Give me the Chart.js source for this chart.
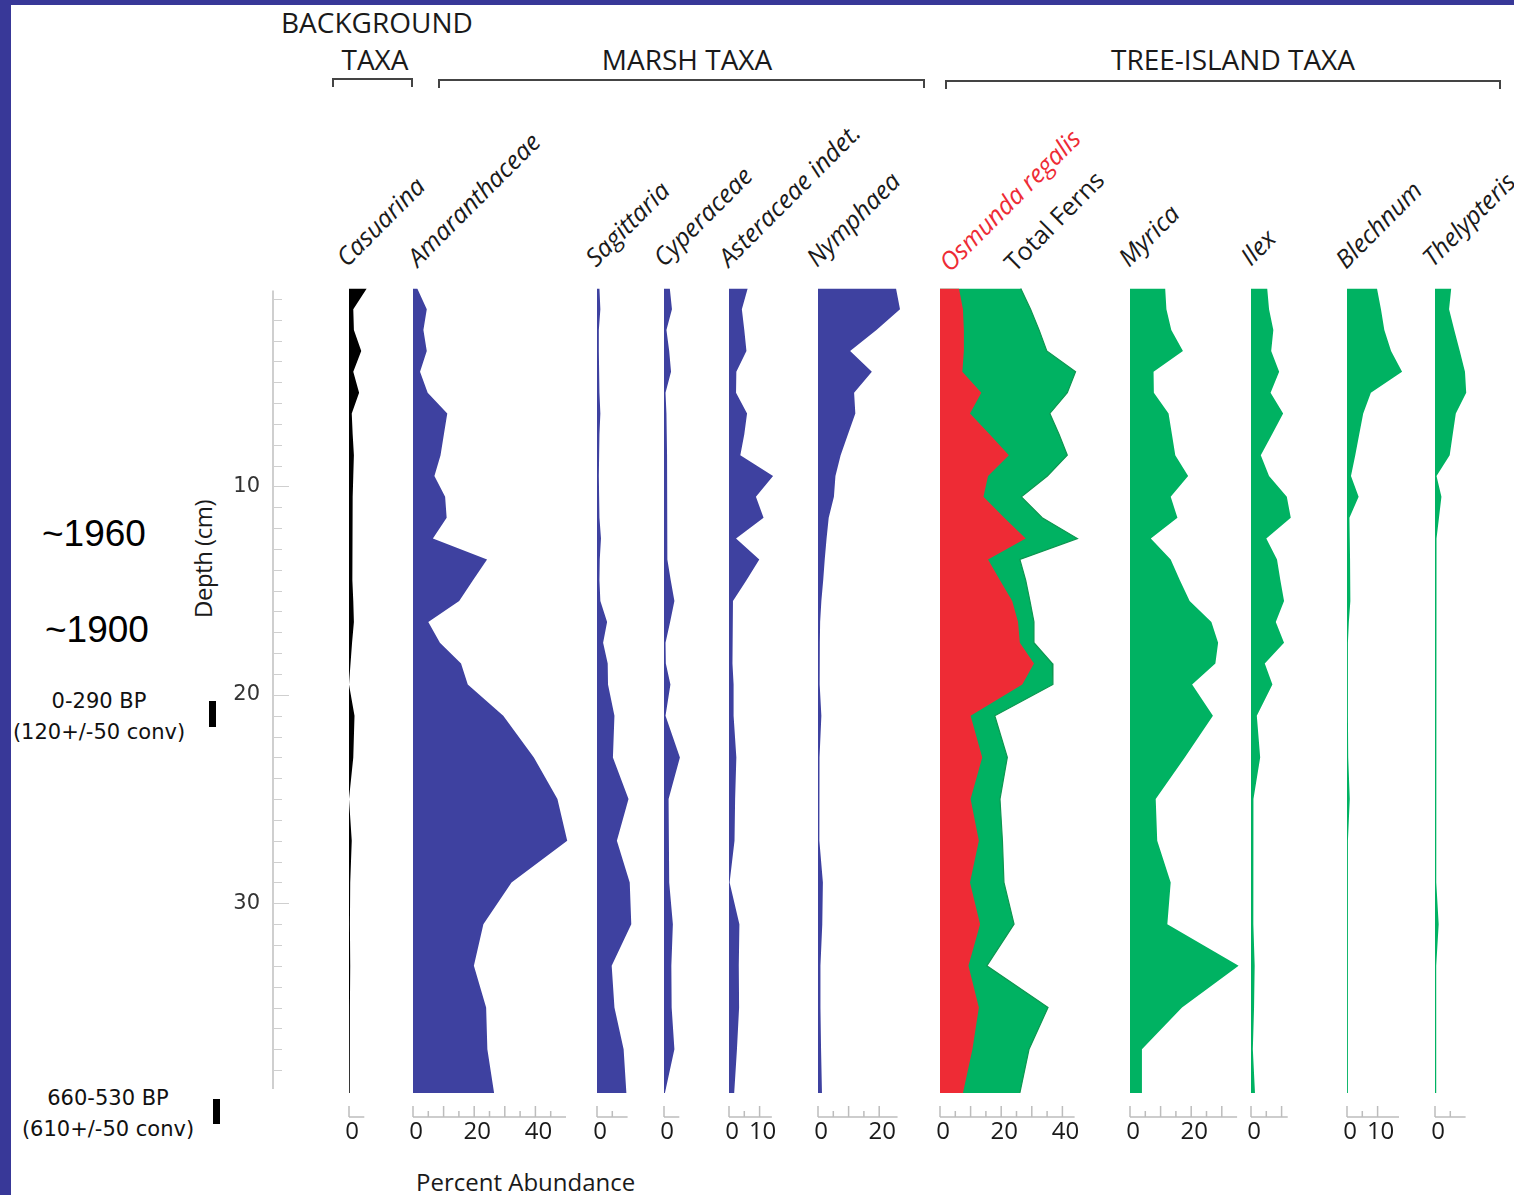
<!DOCTYPE html>
<html>
<head>
<meta charset="utf-8">
<script src="https://cdn.jsdelivr.net/npm/chart.js@4.4.1/dist/chart.umd.min.js"></script>
<style>
  html, body { margin: 0; padding: 0; background: #fff; }
  #page { position: relative; width: 1514px; height: 1195px; overflow: hidden; background: #fff;
          font-family: 'Open Sans', sans-serif; color: #1a1a1a; }
  .frame-left { position: absolute; left: 0; top: 0; width: 11px; height: 1195px; background: #383898; }
  .frame-top { position: absolute; left: 0; top: 0; width: 1514px; height: 5px; background: #383898; }
  .grp { position: absolute; font-size: 28px; line-height: 28px; white-space: nowrap; }
  .center { transform: translateX(-50%); }
  .bracket { position: absolute; height: 7px; border: 2px solid #444; border-bottom: none; }
  .taxon { position: absolute; font-size: 25px; font-style: italic; line-height: 25px; height: 25px;
           white-space: nowrap; transform-origin: 0 100%; transform: rotate(-45deg); }
  .note { position: absolute; white-space: nowrap; transform: translateX(-50%);
          font-family: 'DejaVu Sans', sans-serif; font-size: 21px; line-height: 21px; color: #111; }
  .year { position: absolute; white-space: nowrap; font-family: 'Liberation Sans', Arial, sans-serif;
          font-size: 37px; line-height: 37px; color: #000; }
  .bar { position: absolute; background: #000; }
  canvas { position: absolute; }
</style>
</head>
<body>
<div id="page">
  <div class="frame-top"></div>
  <div class="frame-left"></div>

  <div class="grp" style="left:281px; top:8px;">BACKGROUND</div>
  <div class="grp center" style="left:375px; top:45px;">TAXA</div>
  <div class="grp center" style="left:687px; top:45px;">MARSH TAXA</div>
  <div class="grp center" style="left:1233px; top:45px;">TREE-ISLAND TAXA</div>
  <div class="bracket" style="left:332px; top:78px; width:77px;"></div>
  <div class="bracket" style="left:438px; top:79px; width:483px;"></div>
  <div class="bracket" style="left:945px; top:80px; width:552px;"></div>

  <div class="taxon" style="left:349px; top:245px;">Casuarina</div>
  <div class="taxon" style="left:420px; top:245px;">Amaranthaceae</div>
  <div class="taxon" style="left:598px; top:245px;">Sagittaria</div>
  <div class="taxon" style="left:666px; top:245px;">Cyperaceae</div>
  <div class="taxon" style="left:731px; top:245px;">Asteraceae indet.</div>
  <div class="taxon" style="left:819px; top:245px;">Nymphaea</div>
  <div class="taxon" style="left:952px; top:250px; color:#ee2b35;">Osmunda regalis</div>
  <div class="taxon" style="left:1017px; top:250px; font-style:normal;">Total Ferns</div>
  <div class="taxon" style="left:1131px; top:245px;">Myrica</div>
  <div class="taxon" style="left:1253px; top:244px;">Ilex</div>
  <div class="taxon" style="left:1348px; top:247px;">Blechnum</div>
  <div class="taxon" style="left:1435px; top:245px;">Thelypteris</div>

  <div class="year" style="left:42px; top:515px;">~1960</div>
  <div class="year" style="left:45px; top:611px;">~1900</div>
  <div class="note" style="left:99px; top:691px;">0-290 BP</div>
  <div class="note" style="left:99px; top:722px;">(120+/-50 conv)</div>
  <div class="note" style="left:108px; top:1088px;">660-530 BP</div>
  <div class="note" style="left:108px; top:1119px;">(610+/-50 conv)</div>
  <div class="bar" style="left:209px; top:701px; width:7px; height:26px;"></div>
  <div class="bar" style="left:213px; top:1099px; width:7px; height:25px;"></div>

  <div style="position:absolute; left:202px; top:559px; transform:translate(-50%,-50%) rotate(-90deg);
              font-size:24px; white-space:nowrap; letter-spacing:-0.5px;">Depth (cm)</div>
  <div style="position:absolute; left:416px; top:1170px; font-size:24px; line-height:24px; white-space:nowrap;">Percent Abundance</div>
</div>

<script>
// ---------------- data (depth in cm, values in %) ----------------
const depths = [0.5, 1.5, 2.5, 3.5, 4.5, 5.5, 6.5, 7.5, 8.5, 9.5,
  10.5, 11.5, 12.5, 13.5, 14.5, 15.5, 16.5, 17.5, 18.5, 19.5,
  21, 23, 25, 27, 29, 31, 33, 35, 37, 39.1];

const casuarina = [5.8, 1.4, 1.6, 4.0, 1.4, 3.3, 0.9, 1.2, 1.6, 1.4,
  1.2, 1.2, 1.0, 1.0, 1.2, 1.4, 1.6, 1.0, 0.5, 0.0,
  1.8, 1.4, 0.0, 0.9, 0.4, 0.3, 0.4, 0.3, 0.3, 0.2];
const amaranthaceae = [1.4, 4.5, 3.4, 4.5, 2.3, 4.8, 11.2, 10.1, 9.0, 7.0,
  10.5, 11.0, 6.5, 24.2, 19.6, 15.1, 5.0, 8.8, 15.7, 17.9,
  29.5, 39.5, 47.2, 50.4, 32.2, 23.0, 19.9, 23.9, 24.3, 26.5];
const sagittaria = [0.8, 1.1, 0.6, 0.6, 0.7, 0.8, 1.1, 0.8, 0.7, 0.6,
  0.7, 0.8, 1.3, 0.9, 0.8, 1.1, 3.3, 2.0, 3.5, 3.6,
  5.7, 5.2, 10.3, 6.5, 10.7, 11.2, 4.8, 5.7, 8.7, 9.6];
const cyperaceae = [1.9, 2.6, 0.8, 1.7, 2.3, 0.5, 0.8, 0.9, 1.0, 1.0,
  1.1, 1.0, 1.1, 1.3, 2.2, 3.4, 2.0, 0.5, 0.6, 2.1,
  0.5, 5.2, 1.5, 1.6, 1.7, 2.9, 2.4, 2.5, 3.4, 0.3];
const asteraceae = [6.1, 4.2, 5.0, 5.7, 2.4, 2.3, 5.9, 5.0, 3.7, 14.4,
  8.8, 11.3, 2.3, 9.9, 5.7, 1.3, 1.2, 1.1, 1.1, 1.5,
  1.5, 2.4, 2.0, 1.8, 0.2, 3.4, 3.2, 3.3, 2.6, 1.7];
const nymphaea = [25.5, 26.8, 19.1, 10.5, 17.6, 11.8, 12.2, 9.8, 7.4, 5.7,
  5.2, 3.5, 2.8, 2.2, 1.7, 1.1, 0.7, 0.6, 0.5, 0.6,
  1.1, 0.5, 0.4, 0.5, 1.6, 1.4, 0.8, 0.8, 1.0, 1.3];
const osmunda = [6.2, 7.5, 7.8, 7.8, 7.3, 13.5, 9.8, 16.2, 22.5, 15.7,
  14.2, 21.0, 28.0, 15.7, 19.6, 23.6, 25.5, 26.1, 30.7, 26.9,
  10.0, 13.8, 10.0, 12.7, 9.8, 13.1, 9.3, 12.7, 10.6, 7.5];
const totalFerns = [26.4, 29.6, 32.4, 34.9, 44.3, 41.6, 35.9, 38.9, 41.6, 35.1,
  26.6, 33.4, 44.9, 26.1, 28.0, 29.4, 30.7, 30.7, 36.7, 36.9,
  17.9, 22.0, 19.6, 20.4, 20.9, 24.2, 15.3, 35.3, 29.1, 26.1];
const myrica = [11.5, 11.9, 13.5, 17.3, 7.7, 7.8, 12.6, 13.7, 14.8, 19.0,
  13.3, 15.5, 6.8, 13.3, 16.3, 19.5, 26.6, 28.8, 27.9, 20.3,
  27.1, 17.9, 8.4, 8.9, 13.3, 12.2, 35.5, 17.0, 3.9, 3.9];
const ilex = [5.3, 5.9, 7.3, 6.6, 9.2, 6.4, 10.5, 6.9, 3.2, 5.9,
  11.7, 13.0, 5.0, 8.5, 9.6, 10.8, 8.1, 10.8, 4.5, 7.0,
  1.9, 3.0, 0.8, 0.7, 0.7, 0.9, 1.2, 1.0, 0.6, 1.3];
const blechnum = [9.8, 11.1, 12.2, 14.4, 18.0, 7.8, 5.3, 4.0, 2.7, 1.3,
  3.8, 0.8, 0.9, 1.0, 1.0, 1.2, 0.6, 0.3, 0.3, 0.3,
  0.3, 0.4, 0.9, 0.3, 0.3, 0.3, 0.3, 0.3, 0.3, 0.3];
const thelypteris = [5.3, 4.6, 6.3, 8.1, 9.8, 10.2, 6.8, 5.8, 4.8, 0.5,
  2.1, 1.3, 0.5, 0.4, 0.4, 0.4, 0.4, 0.4, 0.4, 0.4,
  0.4, 0.4, 0.4, 0.4, 0.6, 1.2, 0.4, 0.4, 0.4, 0.4];

// tick labels
const depthTickLabels = [10, 20, 30];
const ticksZero = [0];
const ticksTwentyForty = [0, 20, 40];
const ticksTen = [0, 10];
const ticksTwenty = [0, 20];

// ---------------- layout ----------------
const PX_PER_PCT = 3.06;
const AREA_TOP = 278, AREA_HEIGHT = 840, DEPTH_MAX = 40.3;
const AXIS_H = 50, PAD = 15;
const BLUE = '#3e41a0', GREEN = '#00b262', RED = '#ee2b35';

const panels = [
  { zero: 349,  axisEnd: 5,  labels: ticksZero,        sets: [{ v: casuarina, c: '#000' }] },
  { zero: 413,  axisEnd: 50, labels: ticksTwentyForty, sets: [{ v: amaranthaceae, c: BLUE }] },
  { zero: 597,  axisEnd: 10, labels: ticksZero,        sets: [{ v: sagittaria, c: BLUE }] },
  { zero: 664,  axisEnd: 5,  labels: ticksZero,        sets: [{ v: cyperaceae, c: BLUE }] },
  { zero: 729,  axisEnd: 14, labels: ticksTen,         sets: [{ v: asteraceae, c: BLUE }] },
  { zero: 818,  axisEnd: 26, labels: ticksTwenty,      sets: [{ v: nymphaea, c: BLUE }] },
  { zero: 940,  axisEnd: 44, labels: ticksTwentyForty, sets: [{ v: osmunda, c: RED }, { v: totalFerns, c: GREEN, b: '#0d9650' }] },
  { zero: 1130, axisEnd: 35, labels: ticksTwenty,      sets: [{ v: myrica, c: GREEN }] },
  { zero: 1251, axisEnd: 12, labels: ticksZero,        sets: [{ v: ilex, c: GREEN }] },
  { zero: 1347, axisEnd: 17, labels: ticksTen,         sets: [{ v: blechnum, c: GREEN }] },
  { zero: 1435, axisEnd: 10, labels: ticksZero,        sets: [{ v: thelypteris, c: GREEN }] }
];

const page = document.getElementById('page');

function addCanvas(left, top, w, h) {
  const cv = document.createElement('canvas');
  cv.width = w; cv.height = h;
  cv.style.left = left + 'px'; cv.style.top = top + 'px';
  page.appendChild(cv);
  return cv;
}

// small tick marks standing up from the baseline of each panel axis
function axisMarks(end) {
  return {
    id: 'axisMarks',
    afterDraw(chart) {
      const xs = chart.scales.x, ctx = chart.ctx;
      const base = chart.chartArea.bottom - 1;
      ctx.save();
      ctx.strokeStyle = '#bdbdbd';
      ctx.lineWidth = 1.5;
      ctx.beginPath();
      ctx.moveTo(xs.getPixelForValue(0), base);
      ctx.lineTo(xs.getPixelForValue(end), base);
      xs.ticks.forEach(t => {
        const px = xs.getPixelForValue(t.value);
        const len = t.value % 10 === 0 ? 11 : 6;
        ctx.moveTo(px, base);
        ctx.lineTo(px, base - len);
      });
      ctx.stroke();
      ctx.restore();
    }
  };
}

panels.forEach(p => {
  const dataMax = Math.max(p.axisEnd, ...p.sets.flatMap(s => s.v)) + 2;
  const w = Math.round(PAD * 2 + dataMax * PX_PER_PCT);
  const xMax = (w - PAD * 2) / PX_PER_PCT;
  const cv = addCanvas(p.zero - PAD, AREA_TOP, w, AREA_HEIGHT + AXIS_H);

  new Chart(cv, {
    type: 'line',
    data: {
      datasets: p.sets.map(s => ({
        data: depths.map((d, i) => ({ x: s.v[i], y: d })),
        backgroundColor: s.c,
        borderColor: s.b || s.c,
        borderWidth: s.b ? 1.2 : 0,
        pointRadius: 0,
        fill: 'origin',
        tension: 0
      }))
    },
    options: {
      indexAxis: 'y',
      responsive: false,
      animation: false,
      events: [],
      layout: { padding: { left: PAD, right: PAD, top: 0, bottom: 0 } },
      plugins: { legend: { display: false }, tooltip: { enabled: false } },
      scales: {
        y: { type: 'linear', min: 0, max: DEPTH_MAX, reverse: true, display: false },
        x: {
          type: 'linear', min: 0, max: xMax, position: 'bottom',
          grid: { display: false, drawTicks: false },
          border: { display: false },
          ticks: {
            stepSize: 5, autoSkip: false, maxRotation: 0, padding: 0, labelOffset: 3,
            color: '#1a1a1a', font: { family: 'Open Sans', size: 24 },
            callback: v => p.labels.includes(v) ? String(v) : ''
          },
          afterBuildTicks: s => { s.ticks = s.ticks.filter(t => t.value <= p.axisEnd + 0.01 && t.value % 5 === 0); },
          afterFit: s => { s.height = AXIS_H; }
        }
      }
    },
    plugins: [axisMarks(p.axisEnd)]
  });
});

// ---------------- depth axis ----------------
const depthMarks = {
  id: 'depthMarks',
  afterDraw(chart) {
    const ys = chart.scales.y, ctx = chart.ctx;
    const x0 = chart.chartArea.left;
    const top = depths[0], bottom = depths[depths.length - 1];
    ctx.save();
    ctx.strokeStyle = '#cfcfcf';
    ctx.lineWidth = 2;
    ctx.beginPath();
    ctx.moveTo(x0, ys.getPixelForValue(top) + 2);
    ctx.lineTo(x0, ys.getPixelForValue(bottom) - 4);
    ctx.stroke();
    ctx.lineWidth = 1;
    ctx.beginPath();
    ys.ticks.forEach(t => {
      if (t.value < top || t.value > bottom - 1) return;
      const py = Math.round(ys.getPixelForValue(t.value)) + 0.5;
      const len = depthTickLabels.includes(t.value) ? 16 : 9;
      ctx.moveTo(x0, py);
      ctx.lineTo(x0 + len, py);
    });
    ctx.stroke();
    ctx.restore();
  }
};

const DEPTH_PAD_TOP = 30, DEPTH_PAD_BOTTOM = 60;
const depthCanvas = addCanvas(200, AREA_TOP - DEPTH_PAD_TOP, 100, AREA_HEIGHT + DEPTH_PAD_TOP + DEPTH_PAD_BOTTOM);
new Chart(depthCanvas, {
  type: 'line',
  data: { datasets: [] },
  options: {
    responsive: false,
    animation: false,
    events: [],
    layout: { padding: { left: 0, right: 0, top: DEPTH_PAD_TOP, bottom: DEPTH_PAD_BOTTOM } },
    plugins: { legend: { display: false }, tooltip: { enabled: false } },
    scales: {
      x: { type: 'linear', display: false, min: 0, max: 1 },
      y: {
        type: 'linear', min: 0, max: DEPTH_MAX, reverse: true, position: 'left',
        grid: { display: false, drawTicks: false },
        border: { display: false },
        ticks: {
          stepSize: 1, autoSkip: false, padding: 13,
          color: '#333', font: { family: 'DejaVu Sans', size: 21 },
          callback: v => depthTickLabels.includes(v) ? String(v) : ''
        },
        afterFit: s => { s.width = 73; }
      }
    }
  },
  plugins: [depthMarks]
});
</script>
</body>
</html>
